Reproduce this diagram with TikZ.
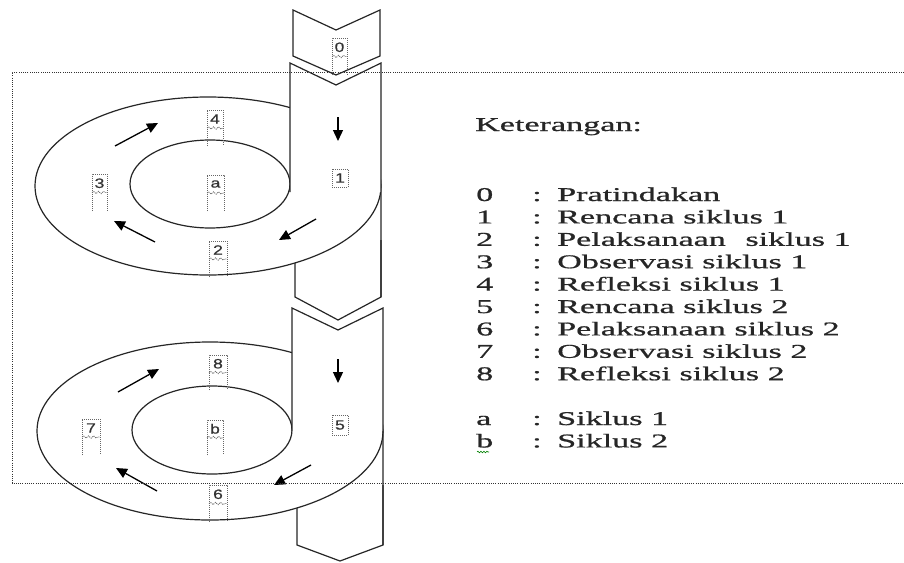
\documentclass[tikz,border=0pt]{standalone}
\usepackage{fontspec}
\setmainfont{Liberation Serif}
\newfontfamily\legfont[FakeStretch=1.75,FakeBold=0.9]{Liberation Serif}
\newfontfamily\lblfont[FakeStretch=1.3,FakeBold=0.6]{Liberation Sans}
\usetikzlibrary{arrows.meta,decorations.pathmorphing}
\tikzset{
  shapeline/.style={draw=black!85, line width=1.2pt, line join=miter},
  flowarrow/.style={draw=black, line width=1.3pt, -{Triangle[length=11pt,width=10pt]}},
  dbox/.style={draw=black!60, line width=0.8pt, dash pattern=on 1pt off 1pt},
  lbl/.style={inner sep=0pt, font=\lblfont\fontsize{13.5}{13.5}\selectfont, text=black!80},
  leg/.style={inner sep=0pt, anchor=base west, font=\legfont\fontsize{19.5}{22}\selectfont, text=black!85},
  frameline/.style={draw=black!80, line width=0.9pt, dash pattern=on 1pt off 1.2pt},
}
% tall label box: name, x1, x2, ytop, ybot, text
\newcommand\tallbox[6]{%
  \draw[dbox] (#2,#5) -- (#2,#4) -- (#3,#4) -- (#3,#5);
  \draw[dbox, decorate, decoration={snake,amplitude=1.2pt,segment length=5pt}] (#2,{(#4+#5)/2}) -- (#3,{(#4+#5)/2});
  \node[lbl] (#1) at ({(#2+#3)/2},{#4+(#5-#4)/4}) {#6};
}
% short label box: name, x1, x2, ytop, ybot, text
\newcommand\shortbox[6]{%
  \draw[dbox] (#2,#4) rectangle (#3,#5);
  \node[lbl] (#1) at ({(#2+#3)/2},{(#4+#5)/2}) {#6};
}
\begin{document}
\begin{tikzpicture}[x=1pt,y=-1pt]
\useasboundingbox (0,0) rectangle (904,562);

% ---------- lower parts of the arrow segments ----------
\draw[shapeline, fill=white] (295,240) -- (295,297) -- (338,320) -- (381,297) -- (381,240);
\draw[shapeline, fill=white] (297,485) -- (297,545) -- (340,561) -- (383,545) -- (383,485);

% ---------- chevron 0 ----------
\draw[shapeline, fill=white] (293,10) -- (336,30) -- (380,10) -- (380,56) -- (336,75) -- (293,56) -- cycle;

% ---------- ring 1 ----------
\fill[white] (208,186) ellipse [x radius=173pt, y radius=89pt];
\draw[shapeline] (208,186) ellipse [x radius=173pt, y radius=89pt];
\draw[shapeline] (210,184) ellipse [x radius=80pt, y radius=44pt];

% ---------- ring 2 ----------
\fill[white] (210,431) ellipse [x radius=173pt, y radius=89pt];
\draw[shapeline] (210,431) ellipse [x radius=173pt, y radius=89pt];
\draw[shapeline] (212,430) ellipse [x radius=80pt, y radius=44pt];

% ---------- upper parts of the arrow segments ----------
\fill[white] (290,63) -- (336,85) -- (381,63) -- (381,192) -- (290,192) -- cycle;
\draw[shapeline] (290,192) -- (290,63) -- (336,85) -- (381,63) -- (381,297);
\fill[white] (292,308) -- (338,330) -- (383,308) -- (383,431) -- (292,431) -- cycle;
\draw[shapeline] (292,431) -- (292,308) -- (338,330) -- (383,308) -- (383,545);

% ---------- flow arrows, cycle 1 ----------
\coordinate (d1s) at (338,117); \coordinate (d1e) at (338,141);
\draw[flowarrow] (d1s) -- (d1e);
\coordinate (r1s) at (316,219); \coordinate (r1e) at (279,240);
\draw[flowarrow] (r1s) -- (r1e);
\coordinate (l1s) at (155,242); \coordinate (l1e) at (114,221);
\draw[flowarrow] (l1s) -- (l1e);
\coordinate (u1s) at (115,146); \coordinate (u1e) at (158,123);
\draw[flowarrow] (u1s) -- (u1e);

% ---------- flow arrows, cycle 2 ----------
\coordinate (d2s) at (338,359); \coordinate (d2e) at (338,383);
\draw[flowarrow] (d2s) -- (d2e);
\coordinate (r2s) at (311,465); \coordinate (r2e) at (274,485);
\draw[flowarrow] (r2s) -- (r2e);
\coordinate (l2s) at (157,491); \coordinate (l2e) at (116,468);
\draw[flowarrow] (l2s) -- (l2e);
\coordinate (u2s) at (118,392); \coordinate (u2e) at (159,369);
\draw[flowarrow] (u2s) -- (u2e);

% ---------- label boxes ----------
\tallbox{lab0}{332}{347}{38}{75}{0}
\tallbox{lab4}{207}{223}{110}{146}{4}
\tallbox{laba}{207}{224}{175}{211}{a}
\tallbox{lab3}{92}{107}{174}{211}{3}
\tallbox{lab2}{209}{227}{241}{277}{2}
\shortbox{lab1}{332}{348}{169}{187}{1}
\tallbox{lab8}{209}{227}{355}{390}{8}
\tallbox{labb}{207}{223}{420}{455}{b}
\tallbox{lab7}{82}{100}{419}{455}{7}
\tallbox{lab6}{209}{227}{485}{522}{6}
\shortbox{lab5}{332}{348}{415}{435}{5}

% ---------- dotted frame ----------
\draw[frameline] (904,72) -- (12,72) -- (12,483) -- (904,483);

% ---------- legend ----------
\node[leg] (ket) at (475,131) {Keterangan:};
\foreach \k/\num/\txt in {0/0/Pratindakan, 1/1/Rencana siklus 1, 3/3/Observasi siklus 1, 4/4/Refleksi siklus 1, 5/5/Rencana siklus 2, 6/6/Pelaksanaan siklus 2, 7/7/Observasi siklus 2, 8/8/Refleksi siklus 2, 10/a/Siklus 1, 11/b/Siklus 2}{
  \node[leg] (num\num) at (476,{201+22.4*\k}) {\num};
  \node[leg] (col\num) at (532,{201+22.4*\k}) {:};
  \node[leg] (txt\num) at (557,{201+22.4*\k}) {\txt};
}
\node[leg] (num2) at (476,{201+22.4*2}) {2};
\node[leg] (col2) at (532,{201+22.4*2}) {:};
\node[leg] (txt2) at (557,{201+22.4*2}) {Pelaksanaan\hspace*{11pt} siklus 1};
\draw[green!50!black, line width=0.6pt, decorate, decoration={snake,amplitude=0.8pt,segment length=3pt}] (477,452) -- (489,452);
\end{tikzpicture}
\end{document}
